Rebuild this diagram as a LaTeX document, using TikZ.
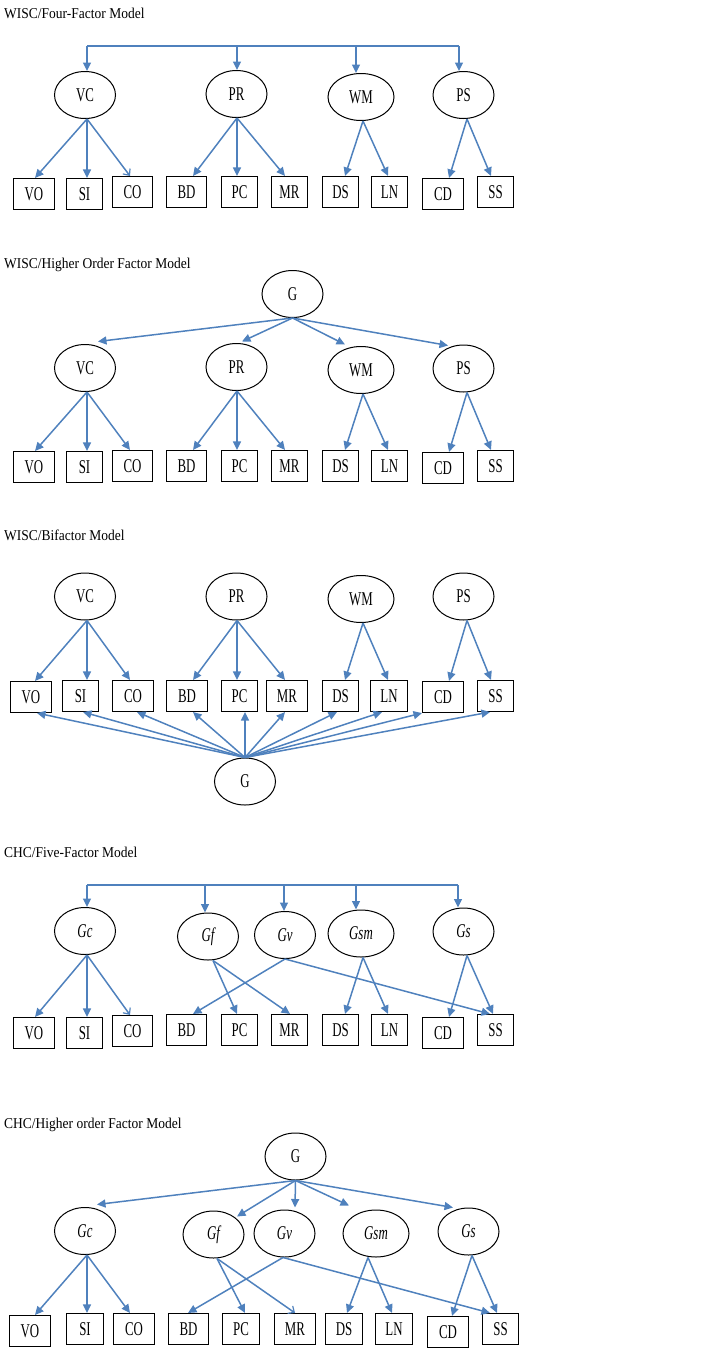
\documentclass[tikz,border=0pt]{standalone}
\usepackage{fontspec}
\setmainfont{Liberation Serif}
\newfontfamily\lblfont[FakeStretch=0.66]{Liberation Serif}
\newfontfamily\ttlfont[FakeStretch=0.9]{Liberation Serif}
\usetikzlibrary{shapes.geometric,arrows.meta}
\definecolor{arrowblue}{RGB}{79,129,189}
\begin{document}
\begin{tikzpicture}[x=1pt,y=-1pt,
  lat/.style={ellipse,draw,line width=1pt,minimum width=61pt,minimum height=47pt,inner sep=0pt,font=\lblfont\fontsize{19.5}{20}\selectfont},
  wide/.style={minimum width=66pt},
  obs/.style={rectangle,draw,line width=1.1pt,minimum height=31pt,inner sep=0pt,font=\lblfont\fontsize{19.5}{20}\selectfont},
  arr/.style={draw=arrowblue,line width=1.5pt,-{Triangle[length=8.5pt,width=8pt]}},
  oarr/.style={draw=arrowblue,line width=1.5pt,-{Straight Barb[length=5pt,width=9pt,line width=1.2pt]}},
  bus/.style={draw=arrowblue,line width=1.5pt},
  ttl/.style={anchor=west,inner sep=0pt,font=\ttlfont\fontsize{15}{17}\selectfont}]
\useasboundingbox (0,0) rectangle (708,1352);

% ---------------- Panel 1 ----------------
\node[ttl] (t1) at (4,13) {WISC/Four-Factor Model};
\node[lat] (VC1) at (85,95) {VC};
\node[lat] (PR1) at (236.5,94) {PR};
\node[lat,wide] (WM1) at (361,97) {WM};
\node[lat] (PS1) at (463.5,95) {PS};
\foreach \n/\x/\w/\dy in {VO/34/41/2, SI/84.5/36/2, CO/132.5/40/0, BD/186.5/40/0, PC/239.5/36/0, MR/289.5/36/0, DS/340.5/36/0, LN/389.5/36/0, CD/443/41/2, SS/495.5/36/0}
  \node[obs,minimum width=\w pt] (\n1) at (\x,192+\dy) {\n};
\coordinate (b1a) at (87,46);
\coordinate (b1b) at (237,46);
\coordinate (b1c) at (356,46);
\coordinate (b1d) at (459,46);
\draw[bus] (b1a) -- (b1d);
\draw[arr] (b1a) -- (b1a |- VC1.north);
\draw[arr] (b1b) -- (b1b |- PR1.north);
\draw[arr] (b1c) -- (b1c |- WM1.north);
\draw[arr] (b1d) -- (b1d |- PS1.north);
\foreach \s/\sx/\t/\tx in {VC1/2/VO1/1, VC1/2/SI1/2.5, PR1/0.5/BD1/6.5, PR1/0.5/PC1/-2.5, PR1/0.5/MR1/-4.5, WM1/2/DS1/4.5, WM1/2/LN1/-1.5, PS1/3.5/CD1/6, PS1/3.5/SS1/-4.5}
  \draw[arr] ([xshift=\sx pt]\s.south) -- ([xshift=\tx pt]\t.north);
\draw[oarr] ([xshift=2pt]VC1.south) -- ([xshift=-2.5pt]CO1.north);

% ---------------- Panel 2 ----------------
\node[ttl] (t2) at (4,265) {WISC/Higher Order Factor Model};
\node[lat] (G2) at (292.5,294) {G};
\node[lat] (VC2) at (85,368) {VC};
\node[lat] (PR2) at (236.5,367) {PR};
\node[lat,wide] (WM2) at (361,370) {WM};
\node[lat] (PS2) at (463.5,368.5) {PS};
\foreach \n/\x/\w/\dy in {VO/34/41/1, SI/84.5/36/1, CO/132.5/40/0, BD/186.5/40/0, PC/239.5/36/0, MR/289.5/36/0, DS/340.5/36/0, LN/389.5/36/0, CD/443/41/2, SS/495.5/36/0}
  \node[obs,minimum width=\w pt] (\n2) at (\x,466+\dy) {\n};
\draw[arr] (G2.south) -- ([xshift=13pt,yshift=2.5pt]VC2.north);
\draw[arr] (G2.south) -- ([xshift=5.5pt,yshift=1.5pt]PR2.north);
\draw[arr] (G2.south) -- ([xshift=-16pt,yshift=1.5pt]WM2.north);
\draw[arr] (G2.south) -- ([xshift=-15.5pt,yshift=-1pt]PS2.north);
\foreach \s/\sx/\t/\tx in {VC2/2/VO2/1, VC2/2/SI2/2.5, VC2/2/CO2/-2.5, PR2/0.5/BD2/6.5, PR2/0.5/PC2/-2.5, PR2/0.5/MR2/-4.5, WM2/2/DS2/4.5, WM2/2/LN2/-1.5, PS2/3.5/CD2/6, PS2/3.5/SS2/-4.5}
  \draw[arr] ([xshift=\sx pt]\s.south) -- ([xshift=\tx pt]\t.north);

% ---------------- Panel 3 ----------------
\node[ttl] (t3) at (4,535) {WISC/Bifactor Model};
\node[lat] (VC3) at (85,596.5) {VC};
\node[lat] (PR3) at (236.5,596.5) {PR};
\node[lat,wide] (WM3) at (361,599) {WM};
\node[lat] (PS3) at (463.5,596.5) {PS};
\node[lat] (G3) at (245,781.5) {G};
\foreach \n/\x/\w/\dy in {VO/31/41/1, SI/80.5/36/0, CO/133/41/0, BD/187/41/0, PC/239.5/36/0, MR/287/41/0, DS/340.5/36/0, LN/389/37/0, CD/443/41/1, SS/495.5/36/0}
  \node[obs,minimum width=\w pt] (\n3) at (\x,696+\dy) {\n};
\foreach \s/\sx/\t/\tx in {VC3/2/VO3/4, VC3/2/SI3/6.5, VC3/2/CO3/-3, PR3/0.5/BD3/6, PR3/0.5/PC3/-2.5, PR3/0.5/MR3/-2, WM3/2/DS3/4.5, WM3/2/LN3/-1, PS3/3.5/CD3/6, PS3/3.5/SS3/-4.5}
  \draw[arr] ([xshift=\sx pt]\s.south) -- ([xshift=\tx pt]\t.north);
\foreach \t/\tx in {VO3/6, SI3/2.5, CO3/4, BD3/6, PC3/5.5, MR3/-2, DS3/-3.5, LN3/-7, CD3/-21, SS3/-5.5}
  \draw[arr] (G3.north) -- ([xshift=\tx pt]\t.south);

% ---------------- Panel 4 ----------------
\node[ttl] (t4) at (4,852) {CHC/Five-Factor Model};
\node[lat] (Gc4) at (85,931) {\itshape Gc};
\node[lat] (Gf4) at (208,936.5) {\itshape Gf};
\node[lat] (Gv4) at (285,935) {\itshape Gv};
\node[lat,wide] (Gsm4) at (361,933.5) {\itshape Gsm};
\node[lat] (Gs4) at (463.5,931.5) {\itshape Gs};
\foreach \n/\x/\w/\dy in {VO/34/41/3, SI/84.5/36/3, CO/132.5/40/1, BD/186.5/40/0, PC/239.5/36/0, MR/289.5/36/0, DS/340.5/36/0, LN/389.5/36/0, CD/443/41/3, SS/495.5/36/0}
  \node[obs,minimum width=\w pt] (\n4) at (\x,1030+\dy) {\n};
\coordinate (b4a) at (87,885);
\coordinate (b4b) at (205,885);
\coordinate (b4c) at (284,885);
\coordinate (b4d) at (356,885);
\coordinate (b4e) at (458,885);
\draw[bus] (b4a) -- (b4e);
\draw[arr] (b4a) -- (b4a |- Gc4.north);
\draw[arr] (b4b) -- (b4b |- Gf4.north);
\draw[arr] (b4c) -- (b4c |- Gv4.north);
\draw[arr] (b4d) -- (b4d |- Gsm4.north);
\draw[arr] (b4e) -- (b4e |- Gs4.north);
\foreach \s/\sx/\t/\tx in {Gc4/2/VO4/1, Gc4/2/SI4/2.5, Gf4/5/PC4/-2.5, Gf4/5/MR4/0.5, Gv4/0/BD4/6.5, Gv4/0/SS4/-5.5, Gsm4/2/DS4/4.5, Gsm4/2/LN4/-1.5, Gs4/3.5/CD4/6, Gs4/3.5/SS4/-2.5}
  \draw[arr] ([xshift=\sx pt]\s.south) -- ([xshift=\tx pt]\t.north);
\draw[oarr] ([xshift=2pt]Gc4.south) -- ([xshift=-2.5pt]CO4.north);

% ---------------- Panel 5 ----------------
\node[ttl] (t5) at (4,1125) {CHC/Higher order Factor Model};
\node[lat] (G5) at (295.5,1156.5) {G};
\node[lat] (Gc5) at (85,1231) {\itshape Gc};
\node[lat] (Gf5) at (213.5,1234.5) {\itshape Gf};
\node[lat] (Gv5) at (284.5,1233.5) {\itshape Gv};
\node[lat,wide] (Gsm5) at (376,1233.5) {\itshape Gsm};
\node[lat] (Gs5) at (468.5,1231.5) {\itshape Gs};
\foreach \n/\x/\w/\dy in {VO/30/41/2, SI/85/37/0, CO/134/41/0, BD/188.5/40/0, PC/241/37/0, MR/295/41/0, DS/344/37/0, LN/394/37/0, CD/448/41/3, SS/500.5/36/0}
  \node[obs,minimum width=\w pt] (\n5) at (\x,1329+\dy) {\n};
\draw[arr] (G5.south) -- ([xshift=12pt,yshift=2.5pt]Gc5.north);
\draw[arr] (G5.south) -- ([xshift=23.5pt,yshift=-6pt]Gf5.north);
\draw[arr] (G5.south) -- ([xshift=10.5pt,yshift=2pt]Gv5.north);
\draw[arr] (G5.south) -- ([xshift=-27pt,yshift=4pt]Gsm5.north);
\draw[arr] (G5.south) -- ([xshift=-15.5pt]Gs5.north);
\foreach \s/\sx/\t/\tx in {Gc5/2/VO5/5, Gc5/2/SI5/2, Gc5/2/CO5/-4, Gf5/3.5/PC5/4, Gv5/-1.5/BD5/-0.5, Gv5/-1.5/SS5/-10.5, Gsm5/-8/DS5/3, Gsm5/-8/LN5/-2, Gs5/3.5/CD5/4, Gs5/3.5/SS5/-3.5}
  \draw[arr] ([xshift=\sx pt]\s.south) -- ([xshift=\tx pt]\t.north);
\draw[oarr] ([xshift=3.5pt]Gf5.south) -- (MR5.north);
\end{tikzpicture}
\end{document}
